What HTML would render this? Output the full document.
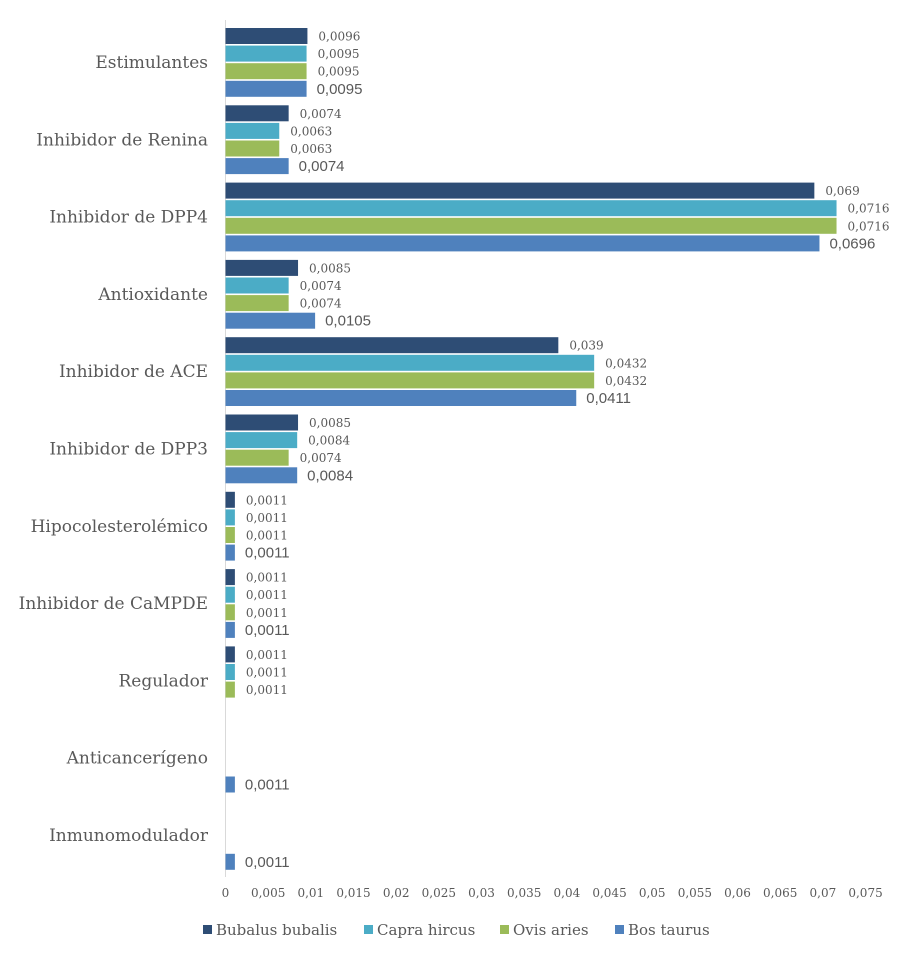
<!DOCTYPE html>
<html>
<head>
<meta charset="utf-8">
<style>
  html,body{margin:0;padding:0;background:#fff;}
  body{width:907px;height:959px;overflow:hidden;}
  svg text{fill:#595959;}
</style>
</head>
<body>
<svg id="chart" width="907" height="959" xmlns="http://www.w3.org/2000/svg"></svg>
<script>
const categories = ["Estimulantes","Inhibidor de Renina","Inhibidor de DPP4","Antioxidante","Inhibidor de ACE","Inhibidor de DPP3","Hipocolesterolémico","Inhibidor de CaMPDE","Regulador","Anticancerígeno","Inmunomodulador"];
const seriesNames = ["Bubalus bubalis","Capra hircus","Ovis aries","Bos taurus"];
const bubalus = [0.0096,0.0074,0.069,0.0085,0.039,0.0085,0.0011,0.0011,0.0011,null,null];
const capra   = [0.0095,0.0063,0.0716,0.0074,0.0432,0.0084,0.0011,0.0011,0.0011,null,null];
const ovis    = [0.0095,0.0063,0.0716,0.0074,0.0432,0.0074,0.0011,0.0011,0.0011,null,null];
const bos     = [0.0095,0.0074,0.0696,0.0105,0.0411,0.0084,0.0011,0.0011,null,0.0011,0.0011];
const ticks = [0,0.005,0.01,0.015,0.02,0.025,0.03,0.035,0.04,0.045,0.05,0.055,0.06,0.065,0.07,0.075];
const tickLabels = ["0","0,005","0,01","0,015","0,02","0,025","0,03","0,035","0,04","0,045","0,05","0,055","0,06","0,065","0,07","0,075"];

const colors = ["#2e4d75","#4bacc6","#9bbb59","#4f81bd"];
const allSeries = [bubalus,capra,ovis,bos];
const NS = "http://www.w3.org/2000/svg";
const svg = document.getElementById("chart");
const x0 = 225.5, pxPerUnit = 8534;
const xScale = v => x0 + v * pxPerUnit;
const groupTop = 28, groupPitch = 77.3, barH = 16, barPitch = 17.6;
const yBar = (ci, si) => groupTop + ci * groupPitch + si * barPitch;
const serif = '"DejaVu Serif", "Liberation Serif", serif';
const sans = '"Liberation Sans", "DejaVu Sans", sans-serif';
function mk(tag, attrs){ const e=document.createElementNS(NS,tag); for(const k in attrs) e.setAttribute(k,attrs[k]); svg.appendChild(e); return e; }

const ax = mk("line",{x1:x0,x2:x0,y1:20,y2:877,stroke:"#d9d9d9","stroke-width":1});



categories.forEach((c,ci)=>{
  const t = mk("text",{x:208,y:groupTop+ci*groupPitch+34+6,"text-anchor":"end","font-family":serif,"font-size":17});
  t.textContent = c;
  
  
});

allSeries.forEach((vals,si)=>{
  vals.forEach((v,ci)=>{
    if(v===null) return;
    const y = yBar(ci,si);
    const r = mk("rect",{x:x0,y:y,width:xScale(v)-x0,height:barH,fill:colors[si]});
    
    
    const lbl = String(v).replace(".",",");
    const isBos = si===3;
    const t = mk("text",{x:xScale(v)+(isBos?10:11),y:y+barH/2+(isBos?5:4.5),"font-family":isBos?sans:serif,"font-size":isBos?15:12});
    t.textContent = lbl;
    
    
  });
});

ticks.forEach((v,i)=>{
  const t = mk("text",{x:xScale(v),y:897,"text-anchor":"middle","font-family":serif,"font-size":12});
  t.textContent = tickLabels[i];
  
  
});

const legX = [203,364,500,615];
seriesNames.forEach((n,si)=>{
  const r = mk("rect",{x:legX[si],y:925,width:9,height:9,fill:colors[si]});
  
  
  const t = mk("text",{x:legX[si]+13,y:935,"font-family":serif,"font-size":15});
  t.textContent = n;
  
  
});
</script>
</body>
</html>
